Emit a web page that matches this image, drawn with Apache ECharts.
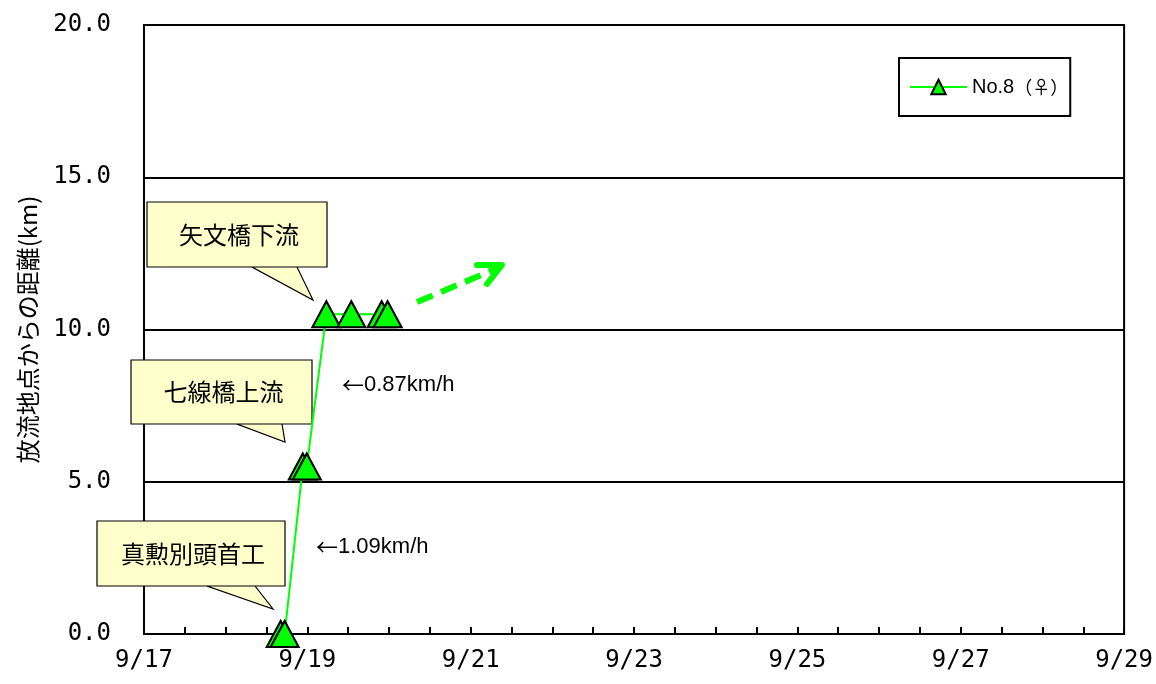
<!DOCTYPE html>
<html><head><meta charset="utf-8">
<script src="https://cdn.jsdelivr.net/npm/echarts@6/dist/echarts.min.js"></script>
<style>html,body{margin:0;padding:0;background:#fff}#c{width:1156px;height:684px}</style>
</head><body><div id="c"></div>
<script>
// Observation times (month/day hour:min) and distance from release point (km)
const obsTimes = ['9/18 16:10','9/18 17:20','9/18 22:40','9/18 23:50','9/19 05:35','9/19 12:55','9/19 21:50','9/19 23:35'];
const distances = [0, 0, 5.5, 5.5, 10.5, 10.5, 10.5, 10.5];
const seriesName = 'No.8（♀）';
const yTicks = [0, 5, 10, 15, 20];
const xStartDay = 17; // 9/17
const xDays = 12;     // to 9/29
const yAxisTitle = '放流地点からの距離(km)';
const callouts = ['矢文橋下流', '七線橋上流', '真勲別頭首工'];
const speeds = ['0.87km/h', '1.09km/h'];

function dayOffset(s) {
  const [md, hm] = s.split(' ');
  const d = parseInt(md.split('/')[1], 10);
  const [h, m] = hm.split(':').map(Number);
  return (d - xStartDay) + h / 24 + m / 1440;
}
const seriesData = obsTimes.map((t, i) => [dayOffset(t), distances[i]]);

const chart = echarts.init(document.getElementById('c'), null, {renderer: 'canvas'});
const numFont = "'DejaVu Sans Mono','Liberation Mono',monospace";
const jpFont = "'Noto Sans CJK JP','Noto Sans CJK SC',sans-serif";
const sansFont = "'Liberation Sans',sans-serif";

function bubble(box, tail, text) {
  const [x1, y1, x2, y2] = box;
  const pts = [[x1, y1], [x2, y1], [x2, y2], [tail[2], y2], [tail[0], tail[1]], [tail[3], y2], [x1, y2]];
  return [
    {type: 'polygon', shape: {points: pts}, style: {fill: '#FFFFCC', stroke: '#000', lineWidth: 1.2}, z: 5},
    {type: 'text', x: (x1 + x2) / 2 + 2, y: (y1 + y2) / 2, style: {text: text, fontFamily: jpFont, fontSize: 24, fill: '#000', align: 'center', verticalAlign: 'middle'}, z: 6}
  ];
}
function speedText(x, y, s) {
  return {type: 'text', x: x, y: y, style: {
    text: '{a|←}{b|' + s + '}', verticalAlign: 'middle',
    rich: {a: {fontFamily: jpFont, fontSize: 22, fill: '#000'}, b: {fontFamily: sansFont, fontSize: 22, fill: '#000'}}
  }, z: 6};
}

const option = {
  animation: false,
  backgroundColor: '#fff',
  grid: {left: 144, right: 30, top: 25, bottom: 50, show: true, borderColor: '#000', borderWidth: 2},
  xAxis: {
    type: 'value', min: 0, max: xDays, interval: 0.5,
    axisLine: {show: true, lineStyle: {color: '#000', width: 2}},
    axisTick: {show: true, inside: true, length: 7, lineStyle: {color: '#000', width: 2}},
    splitLine: {show: false},
    axisLabel: {
      show: true, margin: 15, color: '#000', fontFamily: numFont, fontSize: 24,
      showMinLabel: true, showMaxLabel: true,
      formatter: v => (Math.abs(v % 2) < 1e-9 ? '9/' + (xStartDay + v) : '')
    }
  },
  yAxis: {
    type: 'value', min: yTicks[0], max: yTicks[yTicks.length - 1], interval: 5,
    name: yAxisTitle, nameLocation: 'middle', nameGap: 104, nameRotate: 90,
    nameTextStyle: {fontFamily: jpFont, fontSize: 24, color: '#000'},
    axisLine: {show: true, lineStyle: {color: '#000', width: 2}},
    axisTick: {show: false},
    splitLine: {show: true, lineStyle: {color: '#000', width: 2}},
    axisLabel: {color: '#000', fontFamily: numFont, fontSize: 24, margin: 33, formatter: v => v.toFixed(1)}
  },
  legend: {
    show: true, left: 899, top: 58, orient: 'vertical',
    backgroundColor: '#fff', borderColor: '#000', borderWidth: 2,
    padding: [19, 2, 19, 10], itemWidth: 57, itemHeight: 18, itemGap: 4,
    formatter: () => '{a|No.8}{b|（♀）}',
    textStyle: {
      color: '#000',
      rich: {
        a: {fontFamily: "'Liberation Sans Narrow','Liberation Sans',sans-serif", fontSize: 20, color: '#000'},
        b: {fontFamily: jpFont, fontSize: 18, color: '#000'}
      }
    },
    data: [seriesName]
  },
  series: [{
    name: seriesName, type: 'line', data: seriesData,
    symbol: 'triangle', symbolSize: [28, 26],
    lineStyle: {color: '#00FF00', width: 2},
    itemStyle: {color: '#00FF00', borderColor: '#000', borderWidth: 2},
    z: 10
  }],
  graphic: [
    ...bubble([147, 202, 327, 267], [313, 300, 252, 297], callouts[0]),
    ...bubble([131, 360, 312, 424], [285, 442, 237, 282], callouts[1]),
    ...bubble([97, 521, 285, 586], [273, 609, 207, 255], callouts[2]),
    speedText(342, 385, speeds[0]),
    speedText(316, 547, speeds[1]),
    {type: 'polyline', shape: {points: [[417, 302], [498, 268]]}, style: {stroke: '#00FF00', lineWidth: 6, lineDash: [17, 9], lineCap: 'butt'}, z: 6},
    {type: 'polyline', shape: {points: [[477, 265], [502, 265], [487, 284]]}, style: {stroke: '#00FF00', lineWidth: 6, fill: null, lineCap: 'round', lineJoin: 'round'}, z: 6}
  ]
};
chart.setOption(option);
</script>
</body></html>
